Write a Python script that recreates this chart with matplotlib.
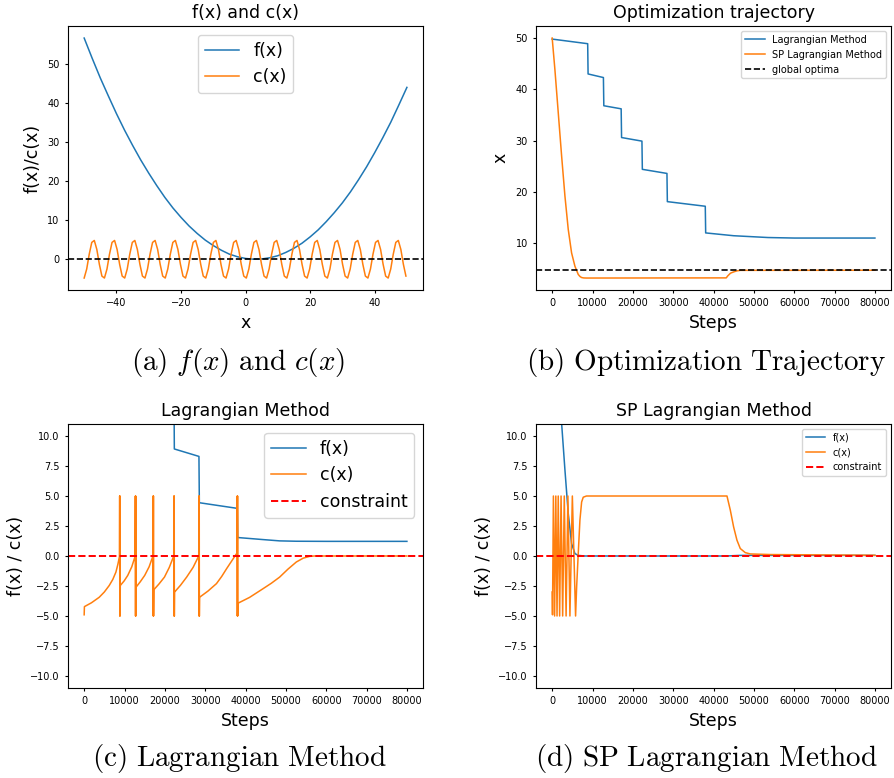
import numpy as np
import matplotlib.pyplot as plt

plt.rcParams['mathtext.fontset'] = 'cm'

# (a) f(x) and c(x)
fx_x = np.arange(-50, 50.1, 2.5)
fx_vals = [56.5, 51.3, 46.3, 41.7, 37.2, 33.0, 29.1, 25.4, 22.0, 18.8, 15.8, 13.1, 10.7,
           8.5, 6.6, 4.9, 3.5, 2.3, 1.3, 0.64, 0.2, 0.01, 0.07, 0.38, 0.9, 1.75, 2.8,
           4.1, 5.7, 7.5, 9.6, 11.9, 14.4, 17.2, 20.3, 23.6, 27.2, 31.0, 35.0, 39.4, 43.9]
cx_x = np.arange(-50, 50, 0.785)
cx_vals = [
    -4.8, -2.5, 1.3, 4.3, 4.8, 2.5, -1.3, -4.3,
    -4.8, -2.5, 1.3, 4.3, 4.8, 2.5, -1.3, -4.3,
    -4.8, -2.5, 1.3, 4.3, 4.8, 2.5, -1.3, -4.3,
    -4.8, -2.5, 1.3, 4.3, 4.8, 2.5, -1.3, -4.3,
    -4.8, -2.5, 1.3, 4.3, 4.8, 2.5, -1.3, -4.3,
    -4.8, -2.5, 1.3, 4.3, 4.8, 2.5, -1.3, -4.3,
    -4.8, -2.5, 1.3, 4.3, 4.8, 2.5, -1.3, -4.3,
    -4.8, -2.5, 1.3, 4.3, 4.8, 2.5, -1.3, -4.3,
    -4.8, -2.5, 1.3, 4.3, 4.8, 2.5, -1.3, -4.3,
    -4.8, -2.5, 1.3, 4.3, 4.8, 2.5, -1.3, -4.3,
    -4.8, -2.5, 1.3, 4.3, 4.8, 2.5, -1.3, -4.3,
    -4.8, -2.5, 1.3, 4.3, 4.8, 2.5, -1.3, -4.3,
    -4.8, -2.5, 1.3, 4.3, 4.8, 2.5, -1.3, -4.3,
    -4.8, -2.5, 1.3, 4.3, 4.8, 2.5, -1.3, -4.3,
    -4.8, -2.5, 1.3, 4.3, 4.8, 2.5, -1.3, -4.3,
    -4.8, -2.5, 1.3, 4.3, 4.8, 2.5, -1.3, -4.3,
]

# (b) optimization trajectory
lag_steps = [0, 8800, 8900, 12700, 12800, 17100, 17200, 22250, 22350, 28450, 28550,
             37950, 38050, 45000, 53500, 60000, 80000]
lag_x = [49.8, 48.9, 43.0, 42.3, 36.8, 36.2, 30.6, 29.9, 24.4, 23.6, 18.1,
         17.2, 12.0, 11.45, 11.1, 11.0, 11.0]
sp_steps = [0, 670, 1500, 2340, 3160, 3980, 4810, 5640, 6460, 6900, 7290, 7800, 8500,
            43150, 43500, 44200, 45000, 45800, 46600, 80000]
sp_x = [50.0, 43.9, 35.5, 27.0, 19.2, 12.7, 8.1, 5.5, 3.9, 3.5, 3.3, 3.22, 3.2,
        3.23, 3.6, 4.15, 4.4, 4.6, 4.7, 4.72]
global_opt = 4.72

# (c) Lagrangian method
lag_f_steps = [0, 8800, 8900, 12700, 12800, 17100, 17200, 22250, 22350, 28450, 28550,
               37950, 38050, 44270, 48450, 52590, 60000, 80000]
lag_f = [43.4, 42.0, 31.8, 30.8, 22.7, 21.9, 15.0, 14.3, 8.92, 8.30, 4.44,
         3.97, 1.54, 1.37, 1.26, 1.23, 1.22, 1.22]
lag_c_steps = [0, 60, 1800, 3730, 5000, 6210, 7100, 7870, 8350, 8750,
               8800, 8830, 8870, 8900,
               8950, 9900, 10800, 11800, 12650,
               12700, 12730, 12770, 12800,
               12850, 13900, 15000, 16100, 17050,
               17100, 17130, 17170, 17200,
               17250, 18550, 19900, 21100, 22200,
               22250, 22280, 22320, 22350,
               22400, 23900, 25400, 27000, 28400,
               28450, 28480, 28520, 28550,
               28600, 30700, 32800, 34100, 35300, 36600, 37900,
               37950, 37980, 38020, 38050,
               38100, 41000, 44270, 46400, 48450, 50500, 52590, 54300, 55900, 57000, 60000, 80000]
lag_c = [-4.9, -4.22, -3.9, -3.44, -3.0, -2.46, -1.95, -1.34, -0.7, -0.05,
         5.0, -5.0, 5.0, -5.0,
         -2.46, -2.08, -1.62, -0.9, 0.0,
         5.0, -5.0, 5.0, -5.0,
         -2.6, -2.15, -1.62, -0.9, 0.0,
         5.0, -5.0, 5.0, -5.0,
         -2.82, -2.33, -1.76, -0.95, 0.0,
         5.0, -5.0, 5.0, -5.0,
         -3.01, -2.43, -1.76, -0.95, 0.0,
         5.0, -5.0, 5.0, -5.0,
         -3.44, -2.92, -2.3, -1.7, -1.06, -0.4, 0.26,
         5.0, -5.0, 5.0, -5.0,
         -3.94, -3.45, -2.74, -2.27, -1.76, -1.1, -0.5, -0.18, -0.03, 0.0, 0.0, 0.0]

# (d) SP Lagrangian method
sp_f_steps = [0, 1500, 2330, 3160, 3980, 4810, 5640, 6460, 8000, 43150, 46600, 80000]
sp_f = [43.9, 20.9, 11.1, 7.18, 3.55, 1.04, 0.2, 0.05, 0.0, 0.0, 0.05, 0.05]
sp_c_steps = [0, 80, 300, 600, 900, 1200, 1500, 1850, 2200, 2600, 3000, 3450, 3900, 4400,
              5000, 5800, 6060, 6460, 6880, 7300, 7700, 8500, 43330, 44150, 44970,
              45800, 46630, 47870, 49120, 54090, 80000]
sp_c = [-3.0, -4.9, 5.0, -5.0, 5.0, -5.0, 5.0, -5.0, 5.0, -5.0, 5.0, -5.0, 5.0, -5.0,
        5.0, -5.0, -2.6, 0.2, 3.0, 4.5, 4.9, 5.0, 5.0, 3.83, 2.43,
        1.32, 0.62, 0.28, 0.17, 0.12, 0.06]

fig = plt.figure(figsize=(8.94, 7.78), dpi=100)
ax_a = fig.add_axes([0.0761, 0.6272, 0.3971, 0.3393])
ax_b = fig.add_axes([0.5996, 0.6272, 0.3971, 0.3393])
ax_c = fig.add_axes([0.0761, 0.1157, 0.3971, 0.3393])
ax_d = fig.add_axes([0.5996, 0.1157, 0.3971, 0.3393])

lw = 1.1
big = 12.5
small = 7

# (a)
ax_a.plot(fx_x, fx_vals, color='C0', lw=lw, label='f(x)')
ax_a.plot(cx_x, cx_vals, color='C1', lw=lw, label='c(x)')
ax_a.axhline(0, color='black', ls='--', lw=1.2)
ax_a.set_title('f(x) and c(x)', fontsize=big)
ax_a.set_xlabel('x', fontsize=big)
ax_a.set_ylabel('f(x)/c(x)', fontsize=big)
ax_a.legend(loc='upper center', fontsize=big)

# (b)
ax_b.plot(lag_steps, lag_x, color='C0', lw=lw, label='Lagrangian Method')
ax_b.plot(sp_steps, sp_x, color='C1', lw=lw, label='SP Lagrangian Method')
ax_b.axhline(global_opt, color='black', ls='--', lw=1.2, label='global optima')
ax_b.set_title('Optimization trajectory', fontsize=big)
ax_b.set_xlabel('Steps', fontsize=big)
ax_b.set_ylabel('x', fontsize=big)
ax_b.legend(loc='upper right', fontsize=small)

# (c)
ax_c.plot(lag_f_steps, lag_f, color='C0', lw=lw, label='f(x)')
ax_c.plot(lag_c_steps, lag_c, color='C1', lw=lw, label='c(x)')
ax_c.axhline(0, color='red', ls='--', lw=1.4, label='constraint')
ax_c.set_title('Lagrangian Method', fontsize=big)
ax_c.legend(loc='upper right', fontsize=big)

# (d)
ax_d.plot(sp_f_steps, sp_f, color='C0', lw=lw, label='f(x)')
ax_d.plot(sp_c_steps, sp_c, color='C1', lw=lw, label='c(x)')
ax_d.axhline(0, color='red', ls='--', lw=1.4, label='constraint')
ax_d.set_title('SP Lagrangian Method', fontsize=big)
ax_d.legend(loc='upper right', fontsize=small)

for ax in (ax_c, ax_d):
    ax.set_ylim(-11, 11)
    ax.set_yticks(np.arange(-10, 10.1, 2.5))
    ax.set_xlabel('Steps', fontsize=big)
    ax.set_ylabel('f(x) / c(x)', fontsize=big)

for ax in (ax_a, ax_b, ax_c, ax_d):
    ax.tick_params(labelsize=small, length=2.5)

# captions
fig.text(0.2662, 0.5347, r'$\mathrm{(a)}\ f(x)\ \mathrm{and}\ c(x)$', fontsize=21, ha='center', va='center')
fig.text(0.7897, 0.5347, r'$\mathrm{(b)\ Optimization\ Trajectory}$', fontsize=21, ha='center', va='center')
fig.text(0.2673, 0.0257, r'$\mathrm{(c)\ Lagrangian\ Method}$', fontsize=21, ha='center', va='center')
fig.text(0.7897, 0.0257, r'$\mathrm{(d)\ SP\ Lagrangian\ Method}$', fontsize=21, ha='center', va='center')

fig.savefig('out.png', dpi=100)
